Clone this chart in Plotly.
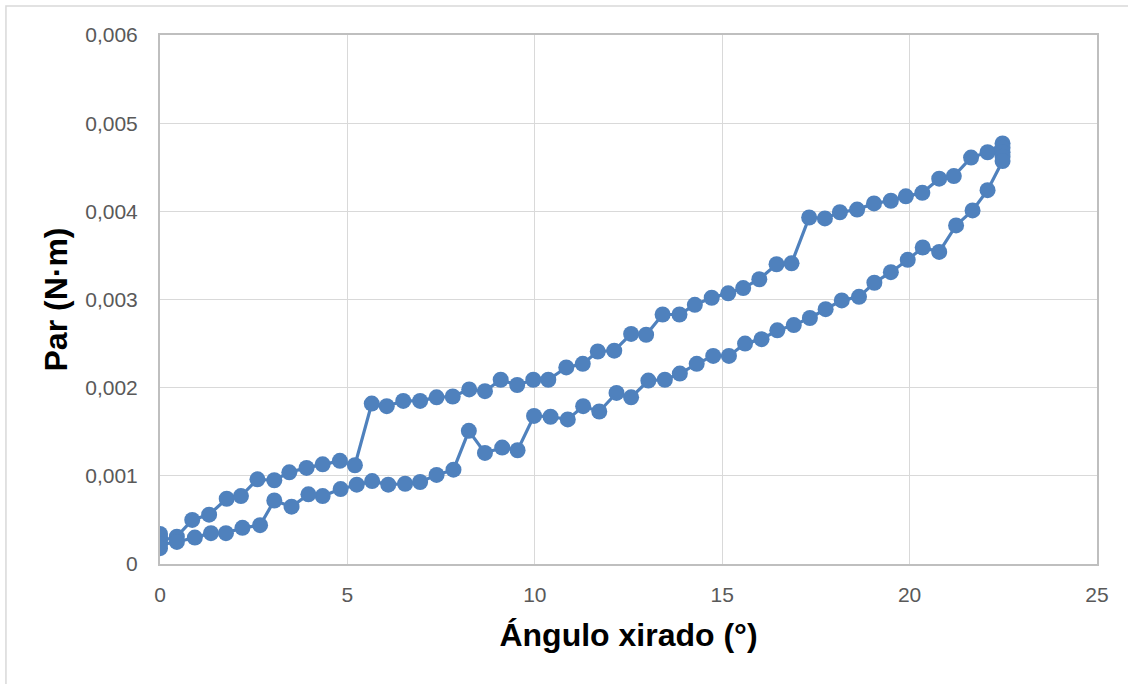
import plotly.graph_objects as go

# Twisting angle (degrees) and torque (N·m), recorded around a full load/unload loop
start_angle = [0, 0, 0]
start_torque = [0.00034, 0.00030, 0.00026]

upper_angle = [0.45, 0.86, 1.31, 1.78, 2.16, 2.60, 3.05, 3.45, 3.91, 4.34, 4.80, 5.20,
               5.65, 6.05, 6.49, 6.94, 7.38, 7.81, 8.25, 8.67, 9.09, 9.53, 9.96, 10.36,
               10.84, 11.28, 11.68, 12.12, 12.57, 12.97, 13.41, 13.86, 14.27, 14.72, 15.16,
               15.56, 15.99, 16.45, 16.85, 17.32, 17.74, 18.14, 18.60, 19.05, 19.50, 19.90,
               20.34, 20.79, 21.18, 21.64, 22.08]
upper_torque = [0.00031, 0.00050, 0.00056, 0.00074, 0.00077, 0.00096, 0.00095, 0.00104,
                0.00109, 0.00113, 0.00117, 0.00112, 0.00182, 0.00179, 0.00185, 0.00185,
                0.00189, 0.00190, 0.00198, 0.00196, 0.00209, 0.00203, 0.00209, 0.00209,
                0.00223, 0.00227, 0.00241, 0.00242, 0.00261, 0.00260, 0.00283, 0.00283,
                0.00294, 0.00302, 0.00307, 0.00313, 0.00323, 0.00340, 0.00341, 0.00393,
                0.00392, 0.00399, 0.00402, 0.00409, 0.00412, 0.00417, 0.00421, 0.00437,
                0.00440, 0.00461, 0.00467]

turn_angle = [22.48, 22.48, 22.48, 22.48, 22.48]
turn_torque = [0.00477, 0.00472, 0.00467, 0.00462, 0.00457]

lower_angle = [22.08, 21.68, 21.24, 20.79, 20.35, 19.95, 19.50, 19.06, 18.65, 18.19, 17.76,
               17.34, 16.91, 16.47, 16.05, 15.61, 15.18, 14.76, 14.32, 13.87, 13.47, 13.03,
               12.57, 12.18, 11.72, 11.29, 10.88, 10.42, 9.98, 9.54, 9.13, 8.67, 8.24, 7.83,
               7.38, 6.94, 6.54, 6.09, 5.66, 5.25, 4.82, 4.34, 3.96, 3.51, 3.05, 2.67, 2.20,
               1.76, 1.36, 0.93, 0.45]
lower_torque = [0.00424, 0.00401, 0.00384, 0.00354, 0.00359, 0.00345, 0.00331, 0.00319,
                0.00303, 0.00299, 0.00289, 0.00279, 0.00271, 0.00265, 0.00255, 0.00250,
                0.00236, 0.00236, 0.00227, 0.00216, 0.00209, 0.00208, 0.00189, 0.00194,
                0.00173, 0.00179, 0.00164, 0.00167, 0.00168, 0.00129, 0.00132, 0.00126,
                0.00151, 0.00107, 0.00101, 0.00093, 0.00091, 0.00090, 0.00094, 0.00090,
                0.00085, 0.00077, 0.00079, 0.00065, 0.00072, 0.00044, 0.00041, 0.00035,
                0.00035, 0.00030, 0.00025]

end_angle = [0, 0]
end_torque = [0.00022, 0.00018]

x_ticks = [0, 5, 10, 15, 20, 25]
y_ticks = [0, 0.001, 0.002, 0.003, 0.004, 0.005, 0.006]
y_tick_labels = ["0", "0,001", "0,002", "0,003", "0,004", "0,005", "0,006"]

angle = start_angle + upper_angle + turn_angle + lower_angle + end_angle
torque = start_torque + upper_torque + turn_torque + lower_torque + end_torque

BLUE = "rgb(79,129,189)"
GRID = "#D9D9D9"
TICK_FONT = dict(family="Liberation Sans, Arial, sans-serif", size=21, color="#595959")
TITLE_FONT = dict(family="Liberation Sans, Arial, sans-serif", size=32, color="#000000")

fig = go.Figure(
    go.Scatter(
        x=angle, y=torque, mode="lines+markers",
        line=dict(color=BLUE, width=3.2),
        marker=dict(color=BLUE, size=16),
        showlegend=False,
    )
)

fig.update_xaxes(
    range=[0, 25], tickvals=x_ticks, showgrid=True, gridcolor=GRID, gridwidth=1,
    zeroline=False, showline=True, linecolor="#BFBFBF", linewidth=2, mirror=True,
    ticks="outside", ticklen=11, tickcolor="rgba(0,0,0,0)", tickfont=TICK_FONT,
    title=dict(text="<b>Ángulo xirado (°)</b>", font=TITLE_FONT, standoff=18),
)
fig.update_yaxes(
    range=[0, 0.006], tickvals=y_ticks, ticktext=y_tick_labels, showgrid=True,
    gridcolor=GRID, gridwidth=1, zeroline=False, showline=True, linecolor="#BFBFBF",
    linewidth=2, mirror=True, ticks="outside", ticklen=16, tickcolor="rgba(0,0,0,0)",
    tickfont=TICK_FONT,
    title=dict(text="<b>Par (N·m)</b>", font=TITLE_FONT, standoff=8),
)

fig.update_layout(
    width=1128, height=684,
    margin=dict(l=160, r=31, t=35, b=120),
    paper_bgcolor="white", plot_bgcolor="white",
    shapes=[dict(type="rect", xref="paper", yref="paper",
                 x0=-0.1644, x1=1.05, y0=-0.25, y1=1.0548,
                 line=dict(color="#D9D9D9", width=1.5), layer="below")],
)

fig.write_html("out.html")
